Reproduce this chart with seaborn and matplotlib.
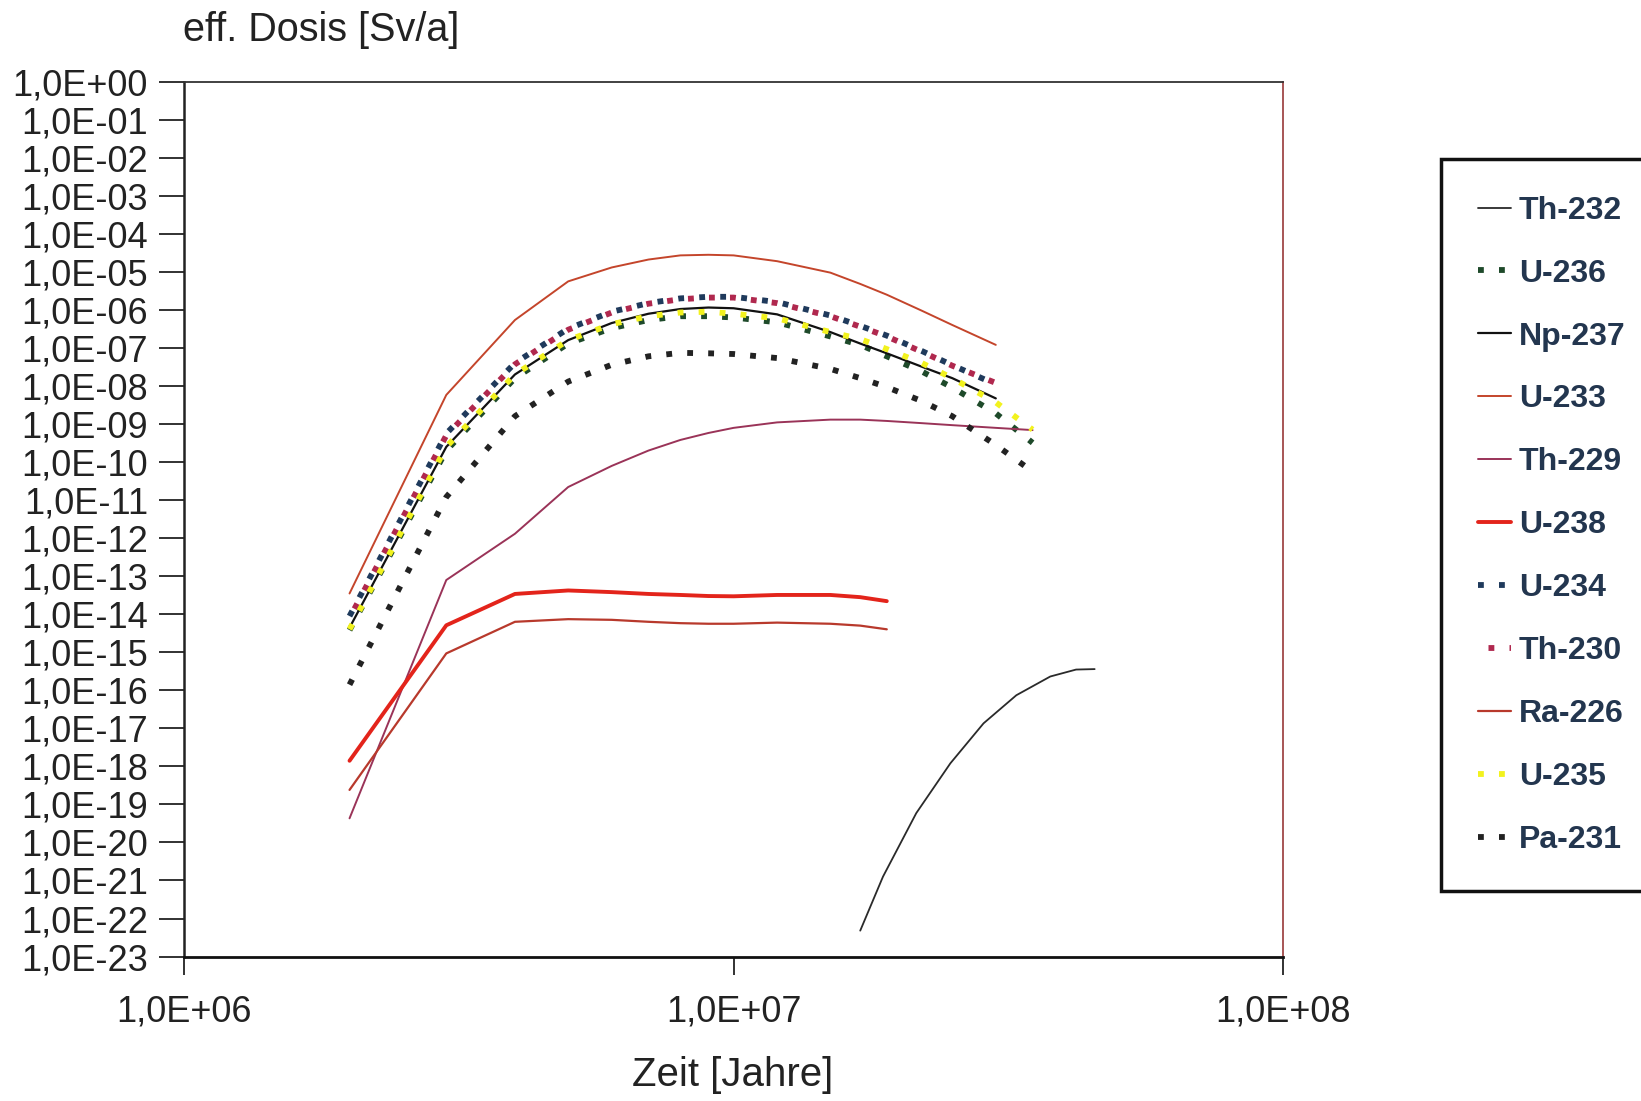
import numpy as np
import pandas as pd
import seaborn as sns
import matplotlib.pyplot as plt
from matplotlib.ticker import FixedLocator, FuncFormatter, NullLocator

nan = np.nan

# Zeit [Jahre] - common time grid, series are NaN outside their range
time_years = [2e6, 3e6, 4e6, 5e6, 6e6, 7e6, 8e6, 9e6, 1e7, 1.2e7, 1.5e7, 1.7e7,
              1.9e7, 2.2e7, 2.5e7, 3e7, 3.5e7]
# Th-232 only appears late, read on its own time points
th232_time = [1.7e7, 1.87e7, 2.15e7, 2.48e7, 2.85e7, 3.27e7, 3.77e7, 4.2e7, 4.54e7]

# eff. Dosis [Sv/a] per nuclide
th232 = [4.8e-23, 1.26e-21, 5.9e-20, 1.2e-18, 1.35e-17, 7.4e-17, 2.3e-16, 3.5e-16, 3.6e-16]
u236 = [3.8e-15, 2.0e-10, 1.6e-8, 1.3e-7, 3.3e-7, 5.4e-7, 6.8e-7, 6.8e-7, 6.3e-7, 4.7e-7, 2.0e-7, 1.2e-7,
        6.0e-8, 2.4e-8, 9.1e-9, 1.9e-9, 3.2e-10]
np237 = [4.4e-15, 2.5e-10, 2.0e-8, 1.6e-7, 4.5e-7, 7.9e-7, 1.05e-6, 1.15e-6, 1.1e-6, 7.6e-7, 2.6e-7, 1.3e-7,
         7.2e-8, 3.2e-8, 1.6e-8, 4.7e-9, nan]
u233 = [3.5e-14, 5.8e-9, 5.4e-7, 5.6e-6, 1.3e-5, 2.1e-5, 2.7e-5, 2.8e-5, 2.7e-5, 1.9e-5, 9.5e-6, 4.8e-6,
        2.5e-6, 9.5e-7, 4.0e-7, 1.2e-7, nan]
th229 = [4.3e-20, 7.9e-14, 1.3e-12, 2.2e-11, 7.9e-11, 2.0e-10, 3.8e-10, 5.8e-10, 7.9e-10, 1.1e-9, 1.3e-9, 1.3e-9,
         1.2e-9, 1.05e-9, 9.3e-10, 7.9e-10, 6.9e-10]
u238 = [1.4e-18, 5.1e-15, 3.4e-14, 4.2e-14, 3.8e-14, 3.4e-14, 3.2e-14, 3.0e-14, 2.95e-14, 3.2e-14, 3.2e-14, 2.8e-14,
        2.2e-14, nan, nan, nan, nan]
u234 = [8.9e-15, 5.6e-10, 4.0e-8, 3.2e-7, 8.9e-7, 1.5e-6, 2.0e-6, 2.2e-6, 2.2e-6, 1.6e-6, 7.1e-7, 3.8e-7,
        2.1e-7, 8.3e-8, 3.5e-8, 1.1e-8, nan]
th230 = [7.9e-15, 5.0e-10, 3.7e-8, 3.0e-7, 8.5e-7, 1.45e-6, 1.9e-6, 2.1e-6, 2.1e-6, 1.5e-6, 6.8e-7, 3.6e-7,
         2.0e-7, 7.9e-8, 3.4e-8, 1.2e-8, nan]
ra226 = [2.4e-19, 9.3e-16, 6.3e-15, 7.4e-15, 7.1e-15, 6.3e-15, 5.8e-15, 5.6e-15, 5.6e-15, 6.0e-15, 5.6e-15, 5.0e-15,
         4.0e-15, nan, nan, nan, nan]
u235 = [4.0e-15, 2.5e-10, 2.0e-8, 1.6e-7, 4.2e-7, 6.8e-7, 8.5e-7, 8.9e-7, 7.9e-7, 6.0e-7, 2.6e-7, 1.7e-7,
        9.3e-8, 4.0e-8, 1.6e-8, 3.7e-9, 7.1e-10]
pa231 = [1.4e-16, 1.2e-11, 1.6e-9, 1.3e-8, 3.6e-8, 6.0e-8, 7.4e-8, 7.2e-8, 6.9e-8, 5.4e-8, 2.8e-8, 1.6e-8,
         9.3e-9, 4.0e-9, 1.6e-9, 2.8e-10, 5.6e-11]

nuclides = ["Th-232", "U-236", "Np-237", "U-233", "Th-229", "U-238",
            "U-234", "Th-230", "Ra-226", "U-235", "Pa-231"]
values = [th232, u236, np237, u233, th229, u238, u234, th230, ra226, u235, pa231]

dot = (0, (1, 2.6))
styles = {
    "Th-232": ("#2a2a2a", "-", 1.3),
    "U-236": ("#1e4a2a", dot, 4.2),
    "Np-237": ("#111111", "-", 1.6),
    "U-233": ("#c4452b", "-", 1.4),
    "Th-229": ("#9a3358", "-", 1.4),
    "U-238": ("#e3241b", "-", 2.8),
    "U-234": ("#1f3a5c", dot, 4.2),
    "Th-230": ("#b0284e", (1.8, (1, 2.6)), 4.2),
    "Ra-226": ("#b8392c", "-", 1.6),
    "U-235": ("#f2f21e", dot, 4.2),
    "Pa-231": ("#222222", dot, 4.2),
}

sns.set_theme(style="white")
plt.rcParams['font.family'] = ['Liberation Sans', 'DejaVu Sans']

fig = plt.figure(figsize=(16.41, 11.01), dpi=100)
ax = fig.add_axes([0.1122, 0.1312, 0.6697, 0.7947])
ax.set_xscale('log')
ax.set_yscale('log')

for name, vals in zip(nuclides, values):
    color, ls, lw = styles[name]
    t = th232_time if name == "Th-232" else time_years
    df = pd.DataFrame({'Zeit': t, 'Dosis': vals}).dropna()
    sns.lineplot(data=df, x='Zeit', y='Dosis', ax=ax, color=color, linestyle=ls,
                 linewidth=lw, label=name, estimator=None, sort=False)

ax.set_xlim(1e6, 1e8)
ax.set_ylim(1e-23, 1e0)

def sci_comma(v, pos):
    e = int(round(np.log10(v)))
    return f"1,0E{e:+03d}"

ax.xaxis.set_major_locator(FixedLocator([1e6, 1e7, 1e8]))
ax.xaxis.set_minor_locator(NullLocator())
ax.xaxis.set_major_formatter(FuncFormatter(sci_comma))
ax.yaxis.set_major_locator(FixedLocator([10.0 ** k for k in range(-23, 1)]))
ax.yaxis.set_minor_locator(NullLocator())
ax.yaxis.set_major_formatter(FuncFormatter(sci_comma))

ax.tick_params(axis='x', which='major', direction='out', length=13, width=1.3,
               pad=14, labelsize=26, colors='#222222', bottom=True)
ax.tick_params(axis='y', which='major', direction='out', length=18, width=1.3,
               pad=8, labelsize=26, colors='#222222', left=True)
ax.set_xlabel('')
ax.set_ylabel('')
ax.grid(False)

for side, c, w in [('left', '#222222', 1.8), ('bottom', '#111111', 2.0),
                   ('top', '#333333', 1.3), ('right', '#a04848', 1.3)]:
    ax.spines[side].set_visible(True)
    ax.spines[side].set_color(c)
    ax.spines[side].set_linewidth(w)

fig.text(0.1115, 0.973, "eff. Dosis [Sv/a]", fontsize=28.5, ha='left', va='center', color='#222222')
fig.text(0.4466, 0.0236, "Zeit [Jahre]", fontsize=29, ha='center', va='center', color='#222222')

handles, labels = ax.get_legend_handles_labels()
ax.get_legend().remove()
leg = fig.legend(handles, labels, loc='upper left', bbox_to_anchor=(0.878, 0.8556),
                 bbox_transform=fig.transFigure, frameon=True, fancybox=False, framealpha=1,
                 fontsize=23, borderaxespad=0, borderpad=1.15, labelspacing=1.03,
                 handlelength=1.05, handletextpad=0.25)
leg.get_frame().set_edgecolor('#111111')
leg.get_frame().set_linewidth(2.5)
for t in leg.get_texts():
    t.set_fontweight('bold')
    t.set_color('#23364f')

fig.savefig('out.png', dpi=100)
